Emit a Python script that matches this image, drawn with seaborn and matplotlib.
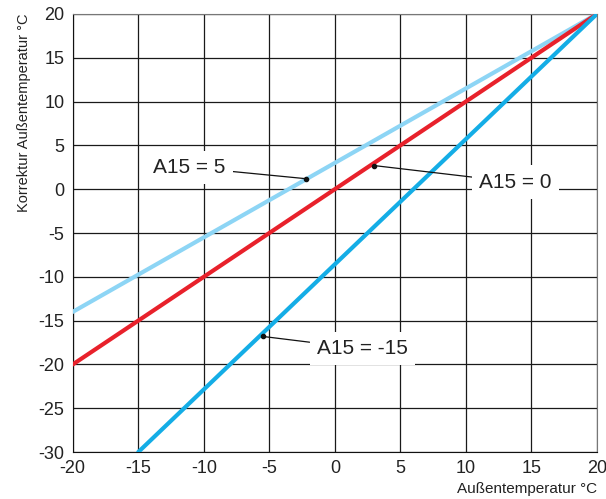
import numpy as np
import pandas as pd
import seaborn as sns
import matplotlib.pyplot as plt

# line end points
x_a15_5 = [-20, 20]
y_a15_5 = [-14, 20]
x_a15_0 = [-20, 20]
y_a15_0 = [-20, 20]
x_a15_m15 = [-15, 20]
y_a15_m15 = [-30, 20]

labels = ["A15 = 5", "A15 = 0", "A15 = -15"]
colors = ["#8dd5f5", "#e8212b", "#14ade6"]
# point on each curve that the label points to
mark_x = [-2.2, 3.0, -5.5]
mark_y = [1.2, 2.7, -16.8]
text_x = [-11.1, 13.8, 2.1]
text_y = [2.5, 0.8, -18.2]

x_ticks = list(range(-20, 21, 5))
y_ticks = list(range(-30, 21, 5))

sns.set_style("white")
plt.rcParams['font.family'] = ['Liberation Sans', 'DejaVu Sans']
plt.rcParams['axes.unicode_minus'] = False

lines = pd.concat([
    pd.DataFrame({'x': x_a15_5, 'y': y_a15_5, 'curve': labels[0]}),
    pd.DataFrame({'x': x_a15_0, 'y': y_a15_0, 'curve': labels[1]}),
    pd.DataFrame({'x': x_a15_m15, 'y': y_a15_m15, 'curve': labels[2]}),
])

fig, ax = plt.subplots(figsize=(6.06, 4.99), dpi=100)
fig.subplots_adjust(left=0.12, right=0.985, bottom=0.094, top=0.972)

sns.lineplot(data=lines, x='x', y='y', hue='curve', palette=colors,
             linewidth=3, legend=False, ax=ax, zorder=3)

ax.set_xlim(-20, 20)
ax.set_ylim(-30, 20)
ax.set_xticks(x_ticks)
ax.set_yticks(y_ticks)
ax.grid(True, color='#1a1a1a', linewidth=0.9, zorder=1)
ax.set_axisbelow(True)
ax.tick_params(direction='out', length=4, color='#555555', labelsize=13,
               labelcolor='#222222', pad=2)
for side in ['left', 'bottom']:
    ax.spines[side].set_color('#111111')
for side in ['top', 'right']:
    ax.spines[side].set_color('#777777')

ax.set_xlabel('Außentemperatur °C', loc='right', fontsize=11, color='#222222', labelpad=3)
ax.set_ylabel('Korrektur Außentemperatur °C', loc='top', fontsize=10.5, color='#222222', labelpad=5)

for lab, mx, my, tx, ty in zip(labels, mark_x, mark_y, text_x, text_y):
    ax.annotate(lab, xy=(mx, my), xytext=(tx, ty), fontsize=15, color='#222222',
                ha='center', va='center', zorder=5,
                bbox=dict(boxstyle='square,pad=0.35', fc='white', ec='none'),
                arrowprops=dict(arrowstyle='-', color='#111111', lw=0.9,
                                shrinkA=0, shrinkB=0))
    ax.plot(mx, my, 'o', color='#111111', markersize=3, zorder=6)

plt.savefig('out.png', dpi=100)
